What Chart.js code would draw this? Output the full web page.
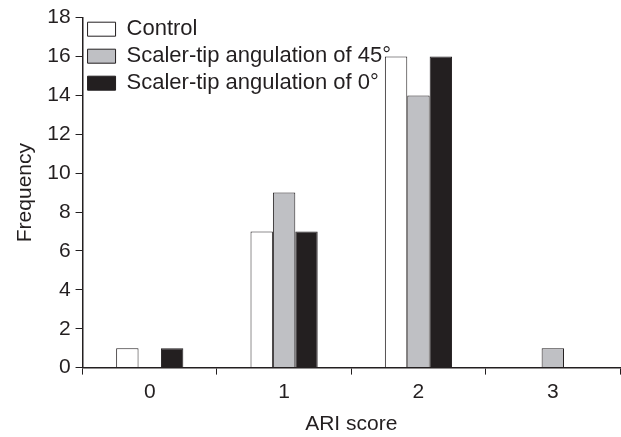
<!DOCTYPE html>
<html>
<head>
<meta charset="utf-8">
<script src="https://cdn.jsdelivr.net/npm/chart.js@4"></script>
<style>
  html, body { margin: 0; padding: 0; background: #fff; }
  #wrap { width: 621px; height: 437px; }
</style>
</head>
<body>
<div id="wrap"><canvas id="ariChart"></canvas></div>
<script>
const scores = ['0', '1', '2', '3'];
const control = [1, 7, 16, 0];
const angle45 = [0, 9, 14, 1];
const angle0 = [1, 7, 16, 0];

const ink = '#231f20';

Chart.defaults.font.family = '"Liberation Sans", Arial, sans-serif';
Chart.defaults.font.size = 21;
Chart.defaults.color = ink;

new Chart(document.getElementById('ariChart'), {
    type: 'bar',
    data: {
        labels: scores,
        datasets: [
            { label: 'Control', data: control, backgroundColor: '#ffffff' },
            { label: 'Scaler-tip angulation of 45°', data: angle45, backgroundColor: '#bfc0c4' },
            { label: 'Scaler-tip angulation of 0°', data: angle0, backgroundColor: ink }
        ].map(d => Object.assign(d, { borderColor: ink, borderWidth: 1 }))
    },
    options: {
        responsive: true,
        maintainAspectRatio: false,
        animation: false,
        categoryPercentage: 0.5,
        barPercentage: 1,
        layout: { padding: { top: 7, right: 1, left: 9, bottom: 0 } },
        plugins: {
            tooltip: { enabled: false },
            legend: {
                position: 'chartArea',
                align: 'start',
                // empty title only pushes the legend rows down a little
                title: { display: true, text: '', font: { size: 1 }, padding: { top: 12, bottom: 0 } },
                labels: {
                    boxWidth: 28,
                    boxHeight: 14,
                    padding: 5,
                    color: ink,
                    font: { size: 22 }
                }
            }
        },
        scales: {
            x: {
                grid: { drawOnChartArea: false, drawTicks: true, tickLength: 7, color: ink, offset: true },
                border: { color: ink, width: 1.5 },
                ticks: { padding: 5 },
                title: { display: true, text: 'ARI score', padding: { top: 2, bottom: 0 } }
            },
            y: {
                min: 0,
                max: 18,
                ticks: { stepSize: 2, padding: 5 },
                grid: { drawOnChartArea: false, drawTicks: true, tickLength: 7, color: ink },
                border: { color: ink, width: 1.5 },
                title: { display: true, text: 'Frequency', padding: { bottom: 4 } }
            }
        }
    }
});
</script>
</body>
</html>
